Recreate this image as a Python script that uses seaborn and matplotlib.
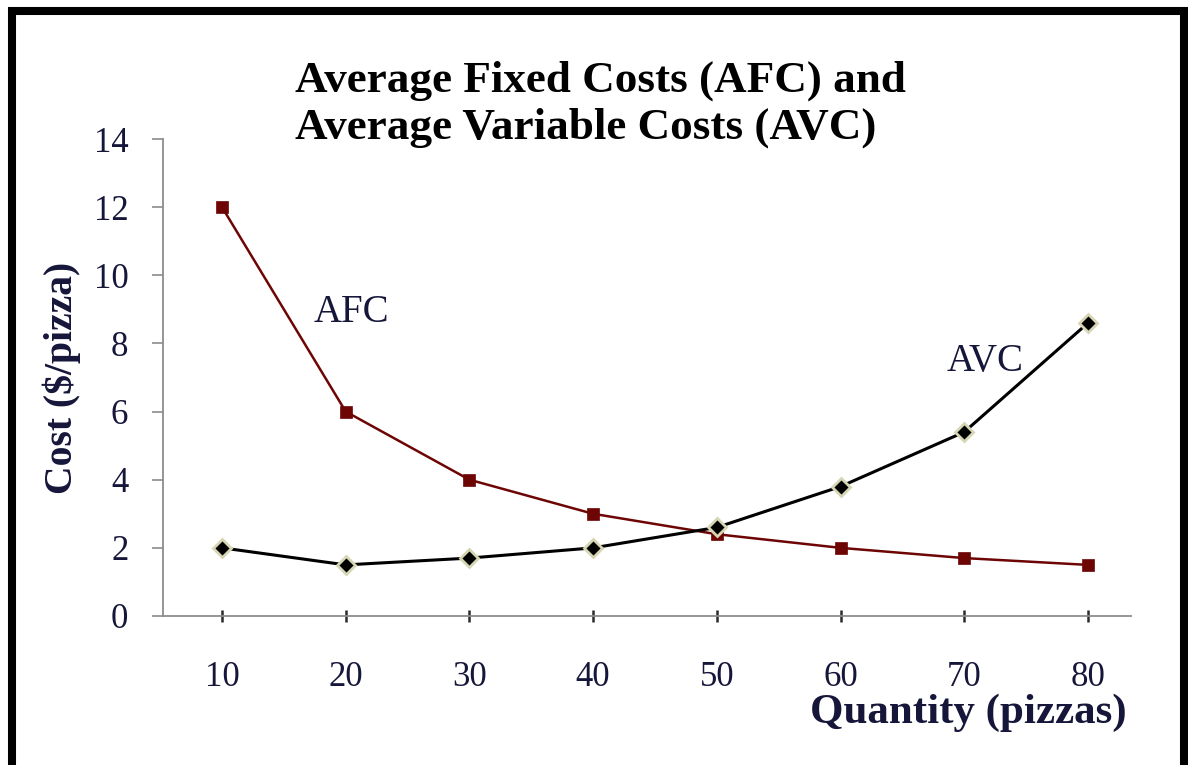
import matplotlib
matplotlib.use("Agg")
import matplotlib.pyplot as plt
from matplotlib.patches import Rectangle
import pandas as pd
import seaborn as sns

# Pizza cost schedule
quantity = [10, 20, 30, 40, 50, 60, 70, 80]
afc = [12, 6, 4, 3, 2.4, 2, 1.7, 1.5]
avc = [2, 1.5, 1.7, 2, 2.6, 3.8, 5.4, 8.6]
y_ticks = [0, 2, 4, 6, 8, 10, 12, 14]

title = "Average Fixed Costs (AFC) and\nAverage Variable Costs (AVC)"
x_label = "Quantity (pizzas)"
y_label = "Cost ($/pizza)"

df = pd.DataFrame({"quantity": quantity, "AFC": afc, "AVC": avc})

sns.set_theme(style="white")
plt.rcParams["font.family"] = ["Liberation Serif", "DejaVu Serif"]

W, H = 1188, 765
fig = plt.figure(figsize=(W / 100, H / 100), dpi=100)
ax = fig.add_axes([163 / W, 1 - 616 / H, (1131 - 163) / W, (616 - 139) / H])

text_color = "#16163a"

sns.lineplot(data=df, x="quantity", y="AFC", ax=ax, color="#6e0505",
             linewidth=1.8, marker="s", markersize=9,
             markeredgecolor="#6e0505", markeredgewidth=0.5, zorder=3)
sns.lineplot(data=df, x="quantity", y="AVC", ax=ax, color="black",
             linewidth=2.2, marker="D", markersize=9,
             markeredgecolor="#d6d6b4", markeredgewidth=2.0, zorder=4)

ax.set_xlim(5.23, 83.48)
ax.set_ylim(0, 14)
ax.set_xticks(quantity)
ax.set_xticklabels([str(q) for q in quantity])
ax.set_yticks(y_ticks)
ax.set_yticklabels([str(v) for v in y_ticks])

for side in ("top", "right"):
    ax.spines[side].set_visible(False)
for side in ("left", "bottom"):
    ax.spines[side].set_color("#8c8c8c")
    ax.spines[side].set_linewidth(1.3)

ax.tick_params(axis="x", direction="inout", length=9, width=1.8,
               color="#2a2a2a", pad=28, labelsize=25, labelcolor=text_color,
               bottom=True)
ax.tick_params(axis="y", direction="out", length=8, width=1.2,
               color="#8c8c8c", pad=17, labelsize=25, labelcolor=text_color,
               left=True)

ax.set_xlabel(x_label, fontsize=31, fontweight="bold", color=text_color,
              ha="right", va="center")
ax.xaxis.set_label_coords((1127 - 163) / (1131 - 163), (616 - 713) / (616 - 139))
ax.set_ylabel(y_label, fontsize=28.5, fontweight="bold", color=text_color,
              va="center")
ax.yaxis.set_label_coords((62 - 163) / (1131 - 163), 0.5)

ax.text(20.5, 8.92, "AFC", fontsize=28, color=text_color, ha="center", va="center")
ax.text(71.7, 7.46, "AVC", fontsize=28, color=text_color, ha="center", va="center")

fig.text(295 / W, 1 - 104 / H, title, fontsize=32.5, fontweight="bold",
         color="black", ha="left", va="center", linespacing=1.2)

# Frame around the whole figure (open at the bottom edge)
fig.patches.append(Rectangle((12 / W, -0.05), (1183.5 - 12) / W, 1.05 - 11.5 / H,
                             transform=fig.transFigure, fill=False,
                             edgecolor="black", linewidth=5.8, clip_on=False))

fig.savefig("out.png", dpi=100)
